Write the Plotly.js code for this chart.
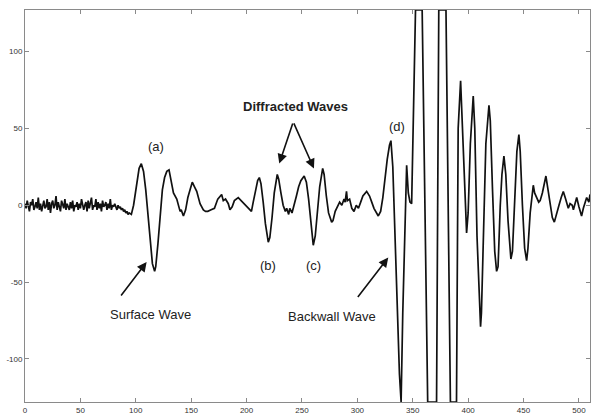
<!DOCTYPE html>
<html>
<head>
<meta charset="utf-8">
<script src="https://cdn.plot.ly/plotly-3.0.1.min.js"></script>
<style>html,body{margin:0;padding:0;background:#fff;}#chart{width:592px;height:417px;}</style>
</head>
<body>
<div id="chart"></div>
<script>
// Waveform, split into short segments (x = sample index, y = amplitude)
const noiseX = [0,1,2,3,4,5,6,7,8,9,10,11,12,13,14,15,16,17,18,19,20,21,22,23,24,25,26,27,28,29,30,31,32,33,34,35,36,37,38,39,40,41,42,43,44,45,46,47,48,49,50,51,52,53,54,55,56,57,58,59,60,61,62,63,64,65,66,67,68,69,70,71,72,73,74,75,76,77,78,79,80,81,82,83,84,85,86,87,88,89,90,91,92,93,94];
const noiseY = [1,-2,3,-1,-4,2,0,4,-3,-1,2,-2,5,-3,1,-4,0,3,-2,-1,4,-3,2,-5,1,3,-2,0,6,-3,2,-1,-4,3,0,-2,4,-3,1,-1,-3,2,-2,3,-4,0,-1,2,-3,1,-2,4,-1,-3,0,2,-4,3,-2,1,5,-3,0,-1,4,-3,2,-2,1,-4,3,-1,0,2,-3,1,-2,4,-3,0,-1,1,-2,-3,0,-2,-1,-3,-2,-4,-3,-5,-4,-6,-5];

const surfaceX = [96,98,101,103,105,107,109,111,113,115,117,118,120,122,124,126,128,130,132,134];
const surfaceY = [-6,0,15,24,27,22,10,-8,-25,-38,-43,-40,-25,-5,10,18,22,23,16,8];

const quietX = [137,140,141,143,145,147,149,151,153,155,158,161,163,165,168,171,174,176,177.5,179,181,183.5,185,187,189,192.5,195,197,199,201.5,204.4];
const quietY = [4,-4,-3,-7,-3,5,10,15,12,9,1,-3,-4,-4,-3,-2,4,6,7,3,4,1,-3,-1,3,5,3,2,0,-2,-4];

const diffX = [206,208,210,211.5,213,215,217,219.6,221,223,225,227.7,229,231,233,235,236.2,238,239,241,243,245,247,249,252,254,256,258,260.2,262,264,266,268.7,270,272,274,276.8,278,280,282.8];
const diffY = [2,10,16,18,14,2,-12,-24,-21,-8,8,20,17,8,0,-4,-2,-6,-2,-5,0,6,12,16,19,15,4,-12,-26,-20,-4,12,24,20,6,-5,-11,-10,-4,1];

const preX = [284,286,288,289,290.2,291,293,295,297,299,301,303,305,308.4,311,313,315,318.9,321,323,325,327,329,330.3,332,334,336,338,339.5];
const preY = [2,0,4,2,9,3,4,-2,-4,0,-2,2,6,9,6,2,-2,-7,-4,5,18,30,39,42,25,-15,-65,-110,-128];

const backX = [341,343,344.5,346,347.5,349,352.5,358.5,363.5,371.5,373.5,380,384,389.5,391,393.2];
const backY = [-70,-20,26,8,2,1,127,127,-128,-128,127,127,-128,-128,50,81];

const tailX = [395,397,398.6,400,402,404.6,406,408,410,411.2,412,414,416,418.8,420,422,424,425.7,427,429,430.5,432.3,434,436,438.6,440,442,444,445.8,447,449,451,452.8,454,456,458.8,460,462,463.7,465,467,470.2,472,474,476,477.8,480,482,484,485.9,488,490.4,492,494,495,497,498,500,502.4,504,506,507,509,510];
const tailY = [45,5,-18,-5,40,71,50,-20,-65,-79,-70,-10,40,65,55,10,-30,-43,-40,0,20,32,20,-10,-35,-30,5,35,46,35,0,-28,-36,-28,-5,13,8,5,2,3,8,19,10,0,-8,-11,-6,0,5,9,4,-2,1,0,-3,2,5,-1,-7,-2,3,5,2,7];

const xTicks = [0,50,100,150,200,250,300,350,400,450,500];
const yTicks = [-100,-50,0,50,100];

const xs = [].concat(noiseX, surfaceX, quietX, diffX, preX, backX, tailX);
const ys = [].concat(noiseY, surfaceY, quietY, diffY, preY, backY, tailY);

const FONT = 'Liberation Sans, Arial, sans-serif';
const txt = (text, x, y, bold) => ({
  text: bold ? '<b>' + text + '</b>' : text, x: x, y: y, xref: 'x', yref: 'y',
  showarrow: false, font: {family: FONT, size: 13, color: '#222'}
});
const arr = (x, y, ax, ay) => ({
  text: '', x: x, y: y, ax: ax, ay: ay, xref: 'x', yref: 'y', axref: 'x', ayref: 'y',
  showarrow: true, arrowhead: 2, arrowsize: 1.2, arrowwidth: 1.6, arrowcolor: '#111', standoff: 0, startstandoff: 0
});

const trace = {
  x: xs, y: ys, type: 'scatter', mode: 'lines',
  line: {color: '#111', width: 1.7},
  hoverinfo: 'skip', cliponaxis: true
};

const axisCommon = {
  showgrid: false, zeroline: false, showline: true, linecolor: '#8a8a8a', linewidth: 1,
  mirror: 'ticks', ticks: 'inside', ticklen: 4, tickwidth: 1, tickcolor: '#8a8a8a',
  tickfont: {family: FONT, size: 8, color: '#333'}, fixedrange: true
};

const layout = {
  width: 592, height: 417,
  margin: {l: 25, r: 2, t: 10, b: 15},
  paper_bgcolor: '#fff', plot_bgcolor: '#fff',
  showlegend: false,
  xaxis: Object.assign({}, axisCommon, {range: [0, 510], tickvals: xTicks, ticktext: xTicks.map(String)}),
  yaxis: Object.assign({}, axisCommon, {range: [-128, 127], tickvals: yTicks, ticktext: yTicks.map(String)}),
  annotations: [
    txt('(a)', 118.2, 38),
    txt('Diffracted Waves', 244.6, 64, true),
    txt('(d)', 335.5, 51),
    txt('(b)', 219, -39.5),
    txt('(c)', 260.8, -39.5),
    txt('Surface Wave', 113.3, -71.2),
    txt('Backwall Wave', 277, -72.3),
    arr(109.8, -36.9, 85.7, -59.7),
    arr(327.9, -34, 299.4, -60.7),
    arr(229.5, 27.1, 242.1, 54.2),
    arr(260.8, 23.9, 242.1, 54.2)
  ]
};

Plotly.newPlot('chart', [trace], layout, {staticPlot: true, displayModeBar: false});
</script>
</body>
</html>
